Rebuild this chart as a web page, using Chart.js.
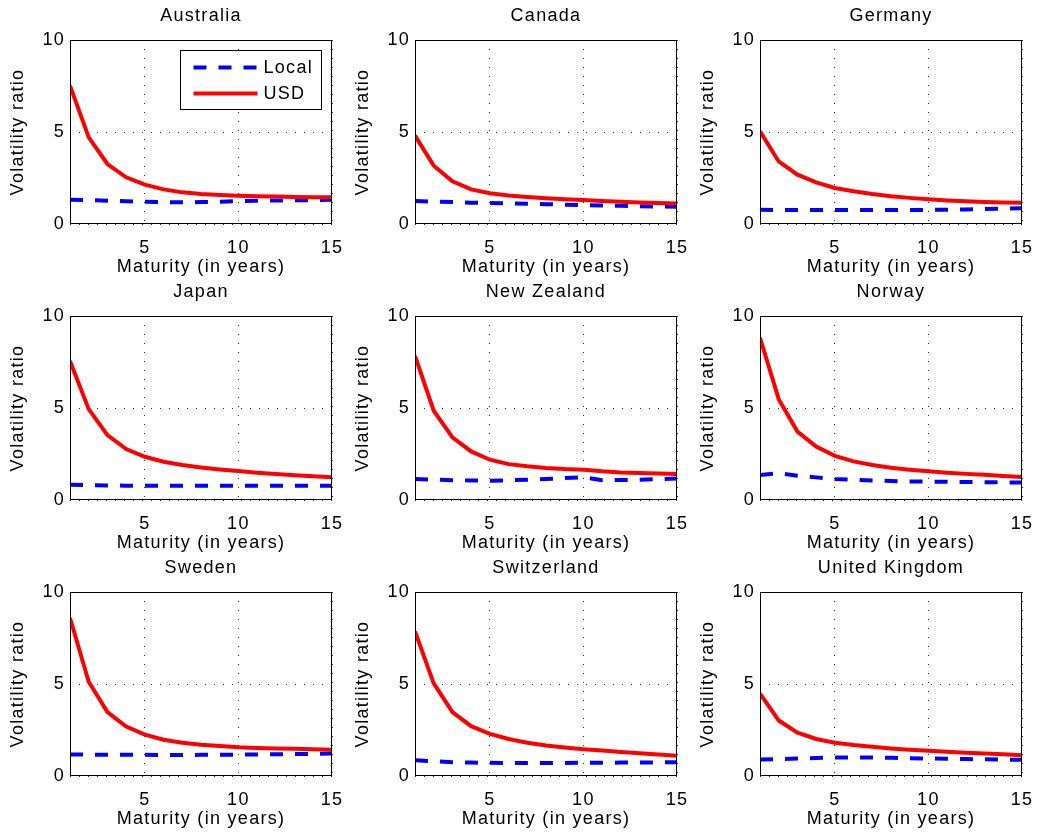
<!DOCTYPE html>
<html>
<head>
<meta charset="utf-8">
<script src="https://cdn.jsdelivr.net/npm/chart.js"></script>
<style>
html, body { margin: 0; padding: 0; background: #ffffff; }
#wrap { position: relative; width: 1039px; height: 836px; overflow: hidden; background: #ffffff; }
.panel { position: absolute; width: 344px; height: 278px; }
</style>
</head>
<body>
<div id="wrap"></div>
<script>
// ---------- data ----------
const maturities = [1, 2, 3, 4, 5, 6, 7, 8, 9, 10, 11, 12, 13, 14, 15];
const xTicks = [5, 10, 15];
const yTicks = [0, 5, 10];
const countries = ['Australia', 'Canada', 'Germany', 'Japan', 'New Zealand', 'Norway', 'Sweden', 'Switzerland', 'United Kingdom'];
const seriesNames = ['Local', 'USD'];

const localAustralia   = [1.32, 1.30, 1.27, 1.24, 1.21, 1.19, 1.18, 1.19, 1.21, 1.24, 1.26, 1.28, 1.29, 1.30, 1.32];
const usdAustralia     = [7.52, 4.71, 3.26, 2.54, 2.14, 1.88, 1.72, 1.63, 1.58, 1.54, 1.51, 1.49, 1.47, 1.46, 1.45];
const localCanada      = [1.25, 1.22, 1.19, 1.16, 1.14, 1.12, 1.10, 1.08, 1.05, 1.03, 1.01, 0.99, 0.97, 0.95, 0.94];
const usdCanada        = [4.80, 3.17, 2.32, 1.88, 1.67, 1.55, 1.47, 1.40, 1.35, 1.30, 1.25, 1.21, 1.17, 1.14, 1.12];
const localGermany     = [0.77, 0.76, 0.76, 0.76, 0.76, 0.76, 0.76, 0.76, 0.76, 0.77, 0.78, 0.79, 0.81, 0.83, 0.85];
const usdGermany       = [5.04, 3.40, 2.68, 2.26, 1.96, 1.78, 1.63, 1.51, 1.42, 1.35, 1.28, 1.23, 1.19, 1.17, 1.15];
const localJapan       = [0.83, 0.80, 0.79, 0.78, 0.78, 0.78, 0.78, 0.78, 0.78, 0.78, 0.78, 0.78, 0.78, 0.78, 0.78];
const usdJapan         = [7.56, 4.94, 3.53, 2.77, 2.35, 2.08, 1.90, 1.77, 1.66, 1.57, 1.48, 1.41, 1.35, 1.29, 1.23];
const localNewZealand  = [1.14, 1.11, 1.08, 1.06, 1.05, 1.07, 1.10, 1.14, 1.19, 1.23, 1.08, 1.09, 1.10, 1.13, 1.17];
const usdNewZealand    = [7.83, 4.85, 3.40, 2.64, 2.19, 1.95, 1.83, 1.74, 1.68, 1.65, 1.56, 1.50, 1.47, 1.44, 1.41];
const localNorway      = [1.36, 1.45, 1.32, 1.23, 1.14, 1.10, 1.06, 1.03, 1.01, 1.00, 0.99, 0.98, 0.97, 0.96, 0.95];
const usdNorway        = [8.82, 5.48, 3.72, 2.91, 2.40, 2.10, 1.90, 1.75, 1.65, 1.56, 1.48, 1.42, 1.37, 1.31, 1.25];
const localSweden      = [1.17, 1.16, 1.16, 1.15, 1.15, 1.14, 1.14, 1.15, 1.15, 1.16, 1.17, 1.18, 1.19, 1.20, 1.22];
const usdSweden        = [8.59, 5.12, 3.47, 2.69, 2.25, 1.97, 1.81, 1.70, 1.63, 1.56, 1.52, 1.50, 1.48, 1.46, 1.43];
const localSwitzerland = [0.86, 0.80, 0.75, 0.73, 0.72, 0.71, 0.71, 0.71, 0.71, 0.72, 0.72, 0.73, 0.73, 0.74, 0.75];
const usdSwitzerland   = [7.86, 5.03, 3.47, 2.71, 2.29, 2.01, 1.81, 1.66, 1.55, 1.46, 1.39, 1.31, 1.24, 1.17, 1.10];
const localUK          = [0.90, 0.92, 0.95, 0.98, 1.00, 1.00, 1.00, 0.99, 0.97, 0.95, 0.94, 0.92, 0.91, 0.89, 0.88];
const usdUK            = [4.48, 3.02, 2.36, 2.01, 1.81, 1.68, 1.59, 1.50, 1.43, 1.37, 1.32, 1.27, 1.22, 1.18, 1.13];

const localSeries = [localAustralia, localCanada, localGermany, localJapan, localNewZealand, localNorway, localSweden, localSwitzerland, localUK];
const usdSeries   = [usdAustralia, usdCanada, usdGermany, usdJapan, usdNewZealand, usdNorway, usdSweden, usdSwitzerland, usdUK];

// ---------- layout / style ----------
const FONT = '"Liberation Sans", Arial, Helvetica, sans-serif';
const FSIZE = 18;
const SPACING = '1.3px';
const panelLefts = [0, 345, 690];
const panelTops = [0, 276, 552];

const spacingPlugin = {
  id: 'spacing',
  beforeLayout(c) { c.ctx.letterSpacing = SPACING; },
  beforeDraw(c) { c.ctx.letterSpacing = SPACING; }
};

const framePlugin = {
  id: 'frame',
  afterDatasetsDraw(c) {
    const a = c.chartArea, ctx = c.ctx;
    ctx.save();
    ctx.strokeStyle = '#000';
    ctx.lineWidth = 1;
    ctx.setLineDash([]);
    ctx.strokeRect(Math.round(a.left) + 0.5, Math.round(a.top) + 0.5,
                   Math.round(a.right - a.left) - 1, Math.round(a.bottom - a.top) - 1);
    ctx.restore();
  }
};

const legendPlugin = {
  id: 'boxLegend',
  afterDraw(c) {
    const a = c.chartArea, ctx = c.ctx;
    const left = Math.round(a.left) + 110.5, top = Math.round(a.top) + 10.5, w = 141, h = 59;
    ctx.save();
    ctx.letterSpacing = SPACING;
    ctx.fillStyle = '#fff';
    ctx.fillRect(left, top, w, h);
    ctx.strokeStyle = '#000';
    ctx.lineWidth = 1;
    ctx.setLineDash([]);
    ctx.strokeRect(left, top, w, h);
    const rows = [17, 43];
    c.data.datasets.forEach((ds, i) => {
      const y = top + rows[i];
      ctx.beginPath();
      ctx.strokeStyle = ds.borderColor;
      ctx.lineWidth = ds.borderWidth;
      ctx.setLineDash(ds.borderDash || []);
      ctx.moveTo(left + 13, y);
      ctx.lineTo(left + 77, y);
      ctx.stroke();
      ctx.setLineDash([]);
      ctx.fillStyle = '#000';
      ctx.font = FSIZE + 'px ' + FONT;
      ctx.textBaseline = 'middle';
      ctx.textAlign = 'left';
      ctx.fillText(ds.label, left + 83, y + 1);
    });
    ctx.restore();
  }
};

function points(arr) {
  return maturities.map((m, k) => ({ x: m, y: arr[k] }));
}

const wrap = document.getElementById('wrap');

countries.forEach((name, i) => {
  const div = document.createElement('div');
  div.className = 'panel';
  div.style.left = panelLefts[i % 3] + 'px';
  div.style.top = panelTops[Math.floor(i / 3)] + 'px';
  const canvas = document.createElement('canvas');
  canvas.width = 344; canvas.height = 278;
  canvas.style.width = '344px'; canvas.style.height = '278px';
  div.appendChild(canvas);
  wrap.appendChild(div);

  const plugins = [spacingPlugin, framePlugin];
  if (i === 0) plugins.push(legendPlugin);

  new Chart(canvas, {
    type: 'line',
    data: {
      datasets: [
        { label: seriesNames[0], data: points(localSeries[i]), borderColor: '#0000ff', backgroundColor: '#0000ff',
          borderWidth: 4, borderDash: [13, 12], pointRadius: 0, fill: false, tension: 0, order: 1 },
        { label: seriesNames[1], data: points(usdSeries[i]), borderColor: '#ff0000', backgroundColor: '#ff0000',
          borderWidth: 4, pointRadius: 0, fill: false, tension: 0, order: 0 }
      ]
    },
    options: {
      responsive: false,
      animation: false,
      devicePixelRatio: 1,
      events: [],
      layout: { padding: { left: 0, right: 12, top: 0, bottom: 0 } },
      plugins: {
        legend: { display: false },
        tooltip: { enabled: false },
        title: { display: true, fullSize: false, text: name, color: '#000', font: { family: FONT, size: FSIZE, weight: 'normal' },
                 padding: { top: 5.2, bottom: 13.2 } }
      },
      scales: {
        x: {
          type: 'linear', min: 1, max: 15,
          afterBuildTicks(s) { s.ticks = xTicks.map(v => ({ value: v })); },
          afterFit(s) { s.height = 54; s.paddingLeft = 0; s.paddingRight = 0; },
          grid: { drawTicks: false, color: '#333', lineWidth: 1 },
          border: { display: false, dash: [1, 8] },
          ticks: { padding: 13, color: '#000', font: { family: FONT, size: FSIZE }, maxRotation: 0, autoSkip: false },
          title: { display: true, text: 'Maturity (in years)', color: '#000', font: { family: FONT, size: FSIZE },
                   padding: { top: 0, bottom: 0 } }
        },
        y: {
          type: 'linear', min: 0, max: 10,
          afterBuildTicks(s) { s.ticks = yTicks.map(v => ({ value: v })); },
          afterFit(s) { s.width = 70; s.paddingTop = 0; s.paddingBottom = 0; },
          grid: { drawTicks: false, color: '#333', lineWidth: 1 },
          border: { display: false, dash: [1, 8] },
          ticks: { padding: 5, color: '#000', font: { family: FONT, size: FSIZE }, autoSkip: false },
          title: { display: true, text: 'Volatility ratio', color: '#000', font: { family: FONT, size: FSIZE },
                   padding: { top: 7.5, bottom: 0 } }
        }
      }
    },
    plugins: plugins
  });
});
</script>
</body>
</html>
